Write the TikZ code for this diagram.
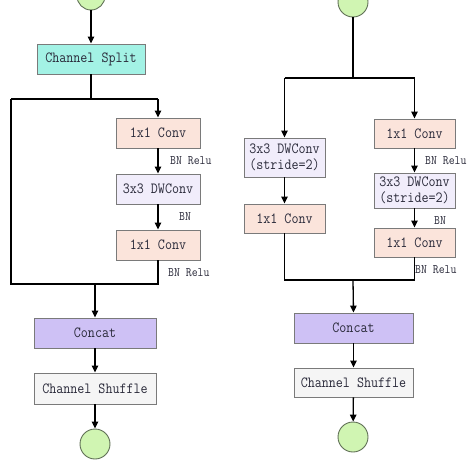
\documentclass[tikz,border=0pt]{standalone}
\usepackage{fontspec}
\usetikzlibrary{arrows.meta}
\newfontfamily\boxfont[FakeStretch=0.88]{Latin Modern Mono}
\definecolor{splitc}{HTML}{A3F2E5}
\definecolor{convc}{HTML}{FBE4DB}
\definecolor{dwc}{HTML}{F1EDFB}
\definecolor{catc}{HTML}{CEC1F5}
\definecolor{shufc}{HTML}{F5F5F5}
\definecolor{circc}{HTML}{D0F5B2}
\definecolor{circb}{HTML}{5F6F55}
\definecolor{boxb}{HTML}{7A7A7A}
\definecolor{txt}{HTML}{2A2A3A}
\tikzset{
  blk/.style={draw=boxb, line width=0.9pt, inner sep=0pt, font=\boxfont\fontsize{15.5}{16}\selectfont, text=txt, align=center},
  io/.style={circle, draw=circb, fill=circc, line width=0.9pt, inner sep=0pt},
  lbl/.style={font=\boxfont\fontsize{13}{14}\selectfont, text=txt, inner sep=0pt},
  ln/.style={line width=1.3pt, black},
  arr/.style={ln, -{Triangle[length=7pt,width=6.5pt]}}
}
\begin{document}
\begin{tikzpicture}[x=1pt,y=-1pt]
\useasboundingbox (0,0) rectangle (474,474);
% ---------- left unit ----------
\node[io, minimum size=28pt] (inL) at (91,-4) {};
\node[blk, fill=splitc, minimum width=108pt, minimum height=30pt] (split) at (91,59) {Channel Split};
\node[blk, fill=convc, minimum width=84pt, minimum height=30pt] (c1) at (158,133) {1x1 Conv};
\node[blk, fill=dwc, minimum width=84pt, minimum height=30pt] (dw) at (158,189) {3x3 DWConv};
\node[blk, fill=convc, minimum width=84pt, minimum height=30pt] (c2) at (158,245) {1x1 Conv};
\node[blk, fill=catc, minimum width=122pt, minimum height=30pt] (catL) at (95,333) {Concat};
\node[blk, fill=shufc, minimum width=122pt, minimum height=31pt] (shL) at (95,388.5) {Channel Shuffle};
\node[io, minimum size=30pt] (outL) at (95,444) {};
\node[lbl, anchor=west] (l1) at (170,161) {BN Relu};
\node[lbl] (l2) at (185,217) {BN};
\node[lbl, anchor=west] (l3) at (168,273) {BN Relu};
\coordinate (sL) at (91,99);
\coordinate (aL) at (11,99);
\coordinate (bL) at (11,284);
\coordinate (jL) at (95,284);
\draw[arr] (inL) -- (split);
\draw[ln] (split.south) -- (sL);
\draw[ln] (aL) -- (sL) -- (c1.north |- sL);
\draw[arr] (c1.north |- sL) -- (c1.north);
\draw[arr] (c1) -- (dw);
\draw[arr] (dw) -- (c2);
\draw[ln] (aL) -- (bL) -- (c2.south |- bL) -- (c2.south);
\draw[arr] (jL) -- (catL.north);
\draw[arr] (catL) -- (shL);
\draw[arr] (shL) -- (outL);
% ---------- right unit ----------
\node[io, minimum size=30pt] (inR) at (353,2) {};
\node[blk, fill=dwc, minimum width=81pt, minimum height=39pt] (dwL) at (284.5,157.5) {3x3 DWConv\\(stride=2)};
\node[blk, fill=convc, minimum width=81pt, minimum height=29pt] (cL) at (284.5,218.5) {1x1 Conv};
\node[blk, fill=convc, minimum width=81pt, minimum height=29pt] (cR1) at (414.5,133.5) {1x1 Conv};
\node[blk, fill=dwc, minimum width=81pt, minimum height=35pt] (dwR) at (414.5,190.5) {3x3 DWConv\\(stride=2)};
\node[blk, fill=convc, minimum width=81pt, minimum height=29pt] (cR2) at (414.5,242.5) {1x1 Conv};
\node[blk, fill=catc, minimum width=119pt, minimum height=30pt] (catR) at (353.5,328) {Concat};
\node[blk, fill=shufc, minimum width=119pt, minimum height=29pt] (shR) at (353.5,382.5) {Channel Shuffle};
\node[io, minimum size=30pt] (outR) at (353,437) {};
\node[lbl, anchor=west] (r1) at (425,161) {BN Relu};
\node[lbl] (r2) at (440,221) {BN};
\node[lbl, anchor=west] (r3) at (415,270) {BN Relu};
\coordinate (sR) at (353,78);
\coordinate (jR) at (353,280);
\draw[ln] (inR) -- (sR);
\draw[ln] (dwL.north |- sR) -- (cR1.north |- sR);
\draw[arr] (dwL.north |- sR) -- (dwL.north);
\draw[arr] (cR1.north |- sR) -- (cR1.north);
\draw[arr] (dwL) -- (cL);
\draw[arr] (cR1) -- (dwR);
\draw[arr] (dwR) -- (cR2);
\draw[ln] (cL.south) -- (cL.south |- jR) -- (cR2.south |- jR) -- (cR2.south);
\draw[arr] (jR) -- (catR.north);
\draw[arr] (catR) -- (shR);
\draw[arr] (shR) -- (outR);
\end{tikzpicture}
\end{document}
